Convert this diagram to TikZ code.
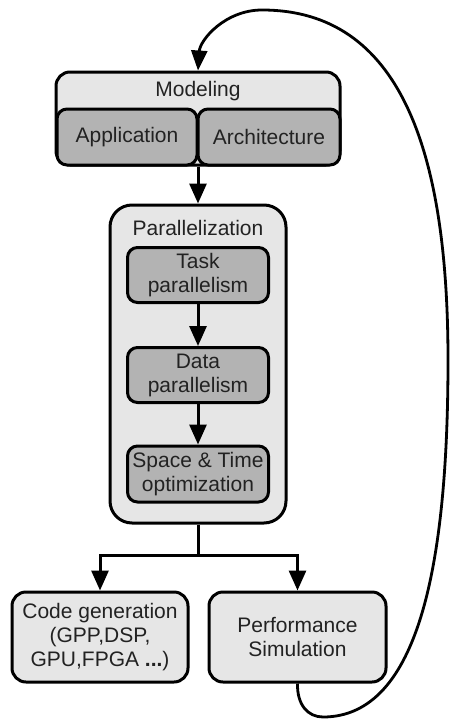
\documentclass[tikz,border=0pt]{standalone}
\usepackage{fontspec}
\setmainfont{Liberation Sans}
\usetikzlibrary{arrows.meta}
\definecolor{lightg}{HTML}{E6E6E6}
\definecolor{darkg}{HTML}{B3B3B3}
\definecolor{txt}{HTML}{222222}
\begin{document}
\begin{tikzpicture}[x=1pt,y=-1pt,
  font=\fontsize{21}{24}\selectfont,
  every node/.style={text=txt},
  lbox/.style={draw=black, line width=3pt, fill=lightg, rounded corners=14pt, align=center, inner sep=0pt},
  dbox/.style={draw=black, line width=3pt, fill=darkg, rounded corners=10pt, align=center, inner sep=0pt},
  arr/.style={line width=3pt, -{Triangle[length=20pt,width=17pt]}},
  loop/.style={line width=2.8pt, -{Triangle[length=20pt,width=16pt]}}]
\useasboundingbox (0,0) rectangle (451,720);
% Modeling
\node[lbox, minimum width=284pt, minimum height=93pt] (model) at (198,118.5) {};
\node (modt) at (198,91) {Modeling};
\node[dbox, minimum width=140pt, minimum height=56pt] (app) at (127,137) {Application};
\node[dbox, minimum width=142pt, minimum height=56pt] (arch) at (269,137) {Architecture};
% Parallelization
\node[lbox, rounded corners=22pt, minimum width=176pt, minimum height=318pt] (par) at (198,364) {};
\node (part) at (198,228) {Parallelization};
\node[dbox, minimum width=141pt, minimum height=55pt] (task) at (198,275) {Task\\parallelism};
\node[dbox, minimum width=141pt, minimum height=55pt] (data) at (198,375) {Data\\parallelism};
\node[dbox, minimum width=141pt, minimum height=56pt] (space) at (198,474) {Space \& Time\\optimization};
% Bottom
\node[lbox, minimum width=176pt, minimum height=90pt] (code) at (100,637) {Code generation\\(GPP,DSP,\\GPU,FPGA {\bfseries ...})};
\node[lbox, minimum width=177pt, minimum height=90pt] (perf) at (297.5,637) {Performance\\Simulation};
% connectors
\draw[arr] (model.south) -- (par.north);
\draw[arr] (task) -- (data);
\draw[arr] (data) -- (space);
\coordinate (split) at (198,555);
\draw[line width=3pt] (par.south) -- (split);
\draw[arr] (split) -| (code.north);
\draw[arr] (split) -| (perf.north);
\draw[loop] (perf.south) .. controls (297,705) and (308,717) .. (323,717)
  .. controls (420,717) and (448,560) .. (448,360)
  .. controls (448,150) and (400,10) .. (262,10)
  .. controls (225,10) and (200,40) .. (model.north);
\end{tikzpicture}
\end{document}
